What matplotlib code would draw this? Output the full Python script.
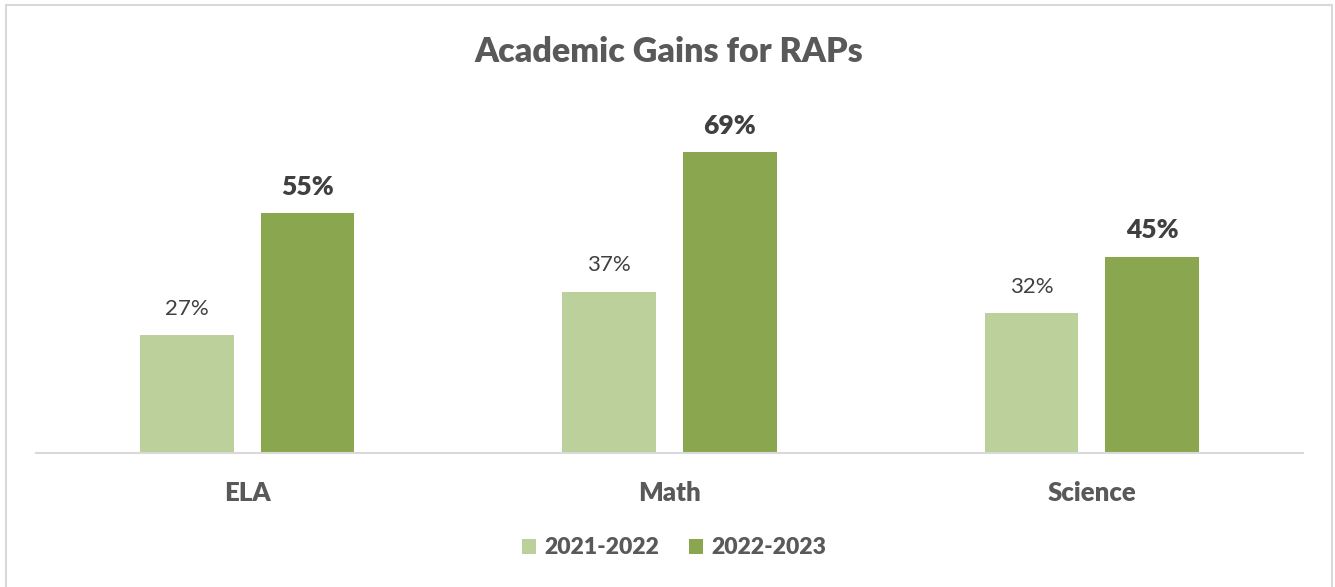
import matplotlib
matplotlib.use("Agg")
import matplotlib.pyplot as plt
from matplotlib.patches import Rectangle
import numpy as np

categories = ["ELA", "Math", "Science"]
series_names = ["2021-2022", "2022-2023"]
values_2122 = [27, 37, 32]
values_2223 = [55, 69, 45]

c_light = "#bbd09a"
c_dark = "#8aa64e"
text_gray = "#595959"
label_dark = "#404040"

plt.rcParams['font.family'] = ['Lato', 'DejaVu Sans']

W, H = 1335, 587
fig = plt.figure(figsize=(W / 100, H / 100), dpi=100)
fig.patch.set_facecolor("white")

# outer border
fig.add_artist(Rectangle((6 / W, -0.01), (1332 - 6) / W, (H - 5) / H + 0.01,
                         transform=fig.transFigure, fill=False,
                         edgecolor="#d9d9d9", linewidth=1.5))

ax = fig.add_axes([36 / W, 134 / H, (1303 - 36) / W, 349 / H])
x = np.arange(len(categories))
bw = 0.222
gap = 0.064
off = (bw + gap) / 2
b1 = ax.bar(x - off, values_2122, bw, color=c_light, label=series_names[0])
b2 = ax.bar(x + off, values_2223, bw, color=c_dark, label=series_names[1])

ax.set_xlim(-0.5, len(categories) - 0.5)
ax.set_ylim(0, 80)
for s in ["top", "right", "left"]:
    ax.spines[s].set_visible(False)
ax.spines["bottom"].set_color("#d9d9d9")
ax.spines["bottom"].set_linewidth(1.5)
ax.set_yticks([])
ax.set_xticks(x)
ax.set_xticklabels(categories, fontsize=18.5, fontweight="heavy", color=text_gray)
ax.tick_params(axis="x", length=0, pad=20)

for rect, v in zip(b1, values_2122):
    ax.annotate(f"{v}%", (rect.get_x() + rect.get_width() / 2, v),
                xytext=(0, 19), textcoords="offset points", ha="center", va="center",
                fontsize=16, color=label_dark)
for rect, v in zip(b2, values_2223):
    ax.annotate(f"{v}%", (rect.get_x() + rect.get_width() / 2, v),
                xytext=(0, 19), textcoords="offset points", ha="center", va="center",
                fontsize=19, fontweight="heavy", color=label_dark)

fig.text(669 / W, 1 - 52 / H, "Academic Gains for RAPs", ha="center", va="center",
         fontsize=24.5, fontweight="heavy", color=text_gray)

leg = fig.legend(handles=[b1, b2], labels=series_names, loc="center",
                 bbox_to_anchor=(674 / W, 1 - 548 / H), ncol=2, frameon=False,
                 handlelength=0.62, handleheight=0.62, handletextpad=0.35,
                 columnspacing=1.3, prop={"size": 16.5, "weight": "heavy"})
for t in leg.get_texts():
    t.set_color(text_gray)

fig.savefig("out.png", dpi=100, facecolor="white")
